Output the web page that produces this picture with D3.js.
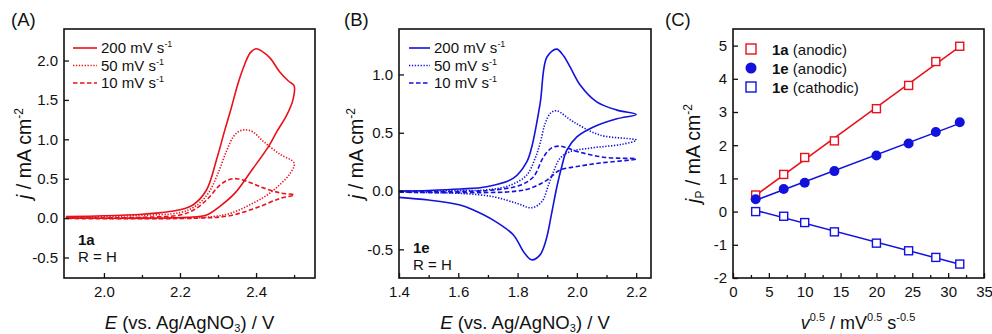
<!DOCTYPE html>
<html>
<head>
<script src="https://d3js.org/d3.v7.min.js"></script>
<style>
  body { margin: 0; background: #fff; }
  svg text { font-family: "Liberation Sans", Arial, sans-serif; fill: #111; }
</style>
</head>
<body>
<svg id="chart" width="992" height="334"></svg>
<script>
// ---- data ----
const RED = "#e8101a", BLUE = "#1212dc";
const rateLabels = ["200", "50", "10"];

// panel A, 1a: [E, j] along the scan (forward then reverse)
const cvA200 = [[1.9,0.02],[2.0,0.03],[2.1,0.05],[2.15,0.07],[2.2,0.105],[2.235,0.17],[2.27,0.36],[2.296,0.74],[2.318,1.12],[2.335,1.4],[2.352,1.7],[2.37,1.95],[2.385,2.1],[2.4,2.15],[2.415,2.12],[2.437,2.03],[2.463,1.85],[2.485,1.74],[2.5,1.68],
  [2.497,1.5],[2.48,1.3],[2.455,1.1],[2.433,0.91],[2.389,0.61],[2.345,0.32],[2.305,0.15],[2.27,0.04],[2.22,0.01],[2.1,0.0],[1.9,0.0]];
const cvA50 = [[1.9,0.01],[2.0,0.02],[2.1,0.035],[2.2,0.07],[2.24,0.15],[2.275,0.32],[2.3,0.57],[2.323,0.86],[2.34,1.03],[2.355,1.1],[2.37,1.12],[2.39,1.1],[2.42,0.97],[2.463,0.81],[2.5,0.7],
  [2.49,0.57],[2.437,0.32],[2.384,0.17],[2.332,0.06],[2.288,0.02],[2.2,0.0],[1.9,0.0]];
const cvA10 = [[1.9,0.0],[2.1,0.01],[2.2,0.04],[2.235,0.1],[2.27,0.23],[2.305,0.42],[2.33,0.49],[2.349,0.5],[2.38,0.46],[2.41,0.4],[2.463,0.32],[2.5,0.295],
  [2.463,0.25],[2.4,0.13],[2.33,0.03],[2.25,0.0],[1.9,-0.005]];

// panel B, 1e
const cvB200 = [[1.4,0.0],[1.5,0.005],[1.606,0.017],[1.696,0.037],[1.786,0.11],[1.831,0.25],[1.848,0.38],[1.876,0.75],[1.899,1.15],[1.932,1.217],[1.955,1.16],[1.977,1.065],[2.011,0.91],[2.067,0.765],[2.135,0.694],[2.2,0.657],
  [2.135,0.62],[2.056,0.55],[2.0,0.465],[1.966,0.35],[1.948,0.2],[1.932,0.03],[1.915,-0.19],[1.896,-0.42],[1.875,-0.55],[1.847,-0.59],[1.82,-0.52],[1.786,-0.377],[1.718,-0.25],[1.651,-0.163],[1.606,-0.12],[1.5,-0.077],[1.4,-0.054]];
const cvB50 = [[1.4,0.0],[1.6,0.003],[1.696,0.01],[1.775,0.05],[1.831,0.137],[1.859,0.28],[1.876,0.41],[1.893,0.58],[1.912,0.67],[1.932,0.688],[1.988,0.594],[2.078,0.48],[2.2,0.437],
  [2.15,0.4],[2.05,0.37],[1.977,0.337],[1.943,0.28],[1.921,0.165],[1.904,0.05],[1.882,-0.09],[1.848,-0.143],[1.797,-0.105],[1.718,-0.049],[1.606,-0.02],[1.4,-0.01]];
const cvB10 = [[1.4,0.0],[1.7,0.005],[1.808,0.05],[1.853,0.12],[1.887,0.29],[1.915,0.37],[1.943,0.385],[2.0,0.34],[2.09,0.29],[2.2,0.275],
  [2.078,0.24],[2.0,0.21],[1.943,0.18],[1.899,0.094],[1.842,0.023],[1.775,-0.006],[1.4,-0.01]];

// panel C, peak current vs sqrt(scan rate)
const sqrtV = [3.16, 7.07, 10, 14.14, 20, 24.49, 28.28, 31.62];
const jp1aAnodic = [0.5, 1.12, 1.63, 2.13, 3.1, 3.8, 4.52, 4.98];
const jp1eAnodic = [0.37, 0.68, 0.87, 1.22, 1.69, 2.05, 2.4, 2.69];
const jp1eCathodic = [0.0, -0.14, -0.33, -0.61, -0.95, -1.18, -1.38, -1.58];

const svg = d3.select("#chart");
const plotTop = 29, plotBottom = 278;
const fmt1 = d => d.toFixed(1);
const fmt0 = d => String(d);

function drawFrame(g, x, y, opt) {
  const [x0, x1] = x.range(), [y0, y1] = y.range();
  // bottom axis, inward ticks
  g.append("g").attr("transform", `translate(0,${y0})`)
    .call(d3.axisBottom(x).tickValues(opt.xMajor).tickSize(-5).tickPadding(8).tickFormat(opt.xFmt))
    .call(a => a.select(".domain").remove())
    .call(a => a.selectAll("text").attr("font-size", 15));
  g.append("g").attr("transform", `translate(0,${y0})`)
    .call(d3.axisBottom(x).tickValues(opt.xMinor).tickSize(-3).tickFormat(""))
    .call(a => a.select(".domain").remove());
  g.append("g").attr("transform", `translate(${x0},0)`)
    .call(d3.axisLeft(y).tickValues(opt.yMajor).tickSize(-5).tickPadding(6).tickFormat(opt.yFmt))
    .call(a => a.select(".domain").remove())
    .call(a => a.selectAll("text").attr("font-size", 15));
  g.selectAll(".tick line").attr("stroke", "#111").attr("stroke-width", 1.3);
  g.append("rect").attr("x", x0).attr("y", y1).attr("width", x1 - x0).attr("height", y0 - y1)
    .attr("fill", "none").attr("stroke", "#111").attr("stroke-width", 1.6);
}

function ylabelJ(g, cx, cy, sub) {
  const t = g.append("text").attr("transform", `translate(${cx},${cy}) rotate(-90)`)
    .attr("text-anchor", "middle").attr("font-size", 19.5);
  t.append("tspan").attr("font-style", "italic").text("j");
  if (sub) t.append("tspan").attr("font-size", 12).attr("dy", 4).text(sub);
  t.append("tspan").attr("dy", sub ? -4 : 0).text(" / mA cm");
  t.append("tspan").attr("font-size", 12).attr("dy", -8).text("-2");
}

function xlabelE(g, cx) {
  const t = g.append("text").attr("x", cx).attr("y", 329).attr("text-anchor", "middle").attr("font-size", 18.5);
  t.append("tspan").attr("font-style", "italic").text("E");
  t.append("tspan").text(" (vs. Ag/AgNO");
  t.append("tspan").attr("font-size", 11).attr("dy", 2.5).text("3");
  t.append("tspan").attr("dy", -2.5).text(") / V");
}

function cvPanel(opt) {
  const g = svg.append("g");
  const x = d3.scaleLinear().domain(opt.xDomain).range(opt.xRange);
  const y = d3.scaleLinear().domain(opt.yDomain).range([plotBottom, plotTop]);
  const line = d3.line().x(d => x(d[0])).y(d => y(d[1])).curve(d3.curveCatmullRom.alpha(0.5));
  const dashes = [null, "1.3,1.6", "4.5,2.5"];
  opt.curves.forEach((c, i) => {
    g.append("path").datum(c).attr("d", line).attr("fill", "none")
      .attr("stroke", opt.color).attr("stroke-width", 1.6)
      .attr("stroke-dasharray", dashes[i]);
  });
  drawFrame(g, x, y, opt);
  // legend
  rateLabels.forEach((r, i) => {
    const ly = 48 + i * 17.5;
    g.append("line").attr("x1", opt.legX[0]).attr("x2", opt.legX[1]).attr("y1", ly).attr("y2", ly)
      .attr("stroke", opt.color).attr("stroke-width", 1.6).attr("stroke-dasharray", dashes[i]);
    const t = g.append("text").attr("x", opt.legX[1] + 4).attr("y", ly + 5).attr("font-size", 15);
    t.append("tspan").text(r + " mV s");
    t.append("tspan").attr("font-size", 9).attr("dy", -6).text("-1");
  });
  g.append("text").attr("x", opt.labX).attr("y", opt.labY).attr("font-size", 15)
    .attr("font-weight", "bold").text(opt.compound);
  g.append("text").attr("x", opt.labX).attr("y", opt.labY + 17).attr("font-size", 15).text("R = H");
  g.append("text").attr("x", opt.panelX).attr("y", 26).attr("font-size", 18.5).text(opt.panel);
  ylabelJ(g, opt.yLabX, (plotTop + plotBottom) / 2);
  xlabelE(g, (opt.xRange[0] + opt.xRange[1]) / 2);
}

cvPanel({
  xDomain: [1.895, 2.555], xRange: [64, 315], yDomain: [-0.76, 2.4], color: RED,
  curves: [cvA200, cvA50, cvA10],
  xMajor: [2.0, 2.2, 2.4], xMinor: [2.1, 2.3, 2.5], yMajor: [-0.5, 0, 0.5, 1.0, 1.5, 2.0],
  xFmt: fmt1, yFmt: fmt1, legX: [73, 97], labX: 78, labY: 245, compound: "1a",
  panel: "(A)", panelX: 11, yLabX: 31
});
cvPanel({
  xDomain: [1.4, 2.25], xRange: [399, 651], yDomain: [-0.746, 1.39], color: BLUE,
  curves: [cvB200, cvB50, cvB10],
  xMajor: [1.4, 1.6, 1.8, 2.0, 2.2], xMinor: [1.5, 1.7, 1.9, 2.1], yMajor: [-0.5, 0, 0.5, 1.0],
  xFmt: fmt1, yFmt: fmt1, legX: [409, 430], labX: 413, labY: 253, compound: "1e",
  panel: "(B)", panelX: 344, yLabX: 363
});

// ---- panel C ----
(function () {
  const g = svg.append("g");
  const x = d3.scaleLinear().domain([0, 35]).range([733, 984]);
  const y = d3.scaleLinear().domain([-2, 5.5]).range([plotBottom, plotTop]);
  const series = [
    { name: "1a", kind: "(anodic)", vals: jp1aAnodic, color: RED, shape: "square" },
    { name: "1e", kind: "(anodic)", vals: jp1eAnodic, color: BLUE, shape: "circle" },
    { name: "1e", kind: "(cathodic)", vals: jp1eCathodic, color: BLUE, shape: "square" }
  ];
  series.forEach(s => {
    // least-squares fit line
    const n = sqrtV.length, mx = d3.mean(sqrtV), my = d3.mean(s.vals);
    const b = d3.sum(sqrtV, (v, i) => (v - mx) * (s.vals[i] - my)) / d3.sum(sqrtV, v => (v - mx) ** 2);
    const a = my - b * mx;
    const ends = [sqrtV[0], sqrtV[n - 1]];
    g.append("path").datum(ends)
      .attr("d", d3.line().x(d => x(d)).y(d => y(a + b * d)))
      .attr("stroke", s.color).attr("stroke-width", 1.5).attr("fill", "none");
  });
  series.forEach(s => {
    const pts = g.selectAll(null).data(sqrtV.map((v, i) => [v, s.vals[i]]));
    if (s.shape === "circle") {
      pts.enter().append("circle").attr("cx", d => x(d[0])).attr("cy", d => y(d[1])).attr("r", 5)
        .attr("fill", s.color);
    } else {
      pts.enter().append("rect").attr("x", d => x(d[0]) - 4).attr("y", d => y(d[1]) - 4)
        .attr("width", 8).attr("height", 8).attr("fill", "#fff").attr("stroke", s.color).attr("stroke-width", 1.4);
    }
  });
  drawFrame(g, x, y, {
    xMajor: [0, 5, 10, 15, 20, 25, 30, 35], xMinor: [2.5, 7.5, 12.5, 17.5, 22.5, 27.5, 32.5],
    yMajor: [-2, -1, 0, 1, 2, 3, 4, 5], xFmt: fmt0, yFmt: fmt0
  });
  series.forEach((s, i) => {
    const ly = 49 + i * 19;
    if (s.shape === "circle") {
      g.append("circle").attr("cx", 751).attr("cy", ly).attr("r", 5.5).attr("fill", s.color);
    } else {
      g.append("rect").attr("x", 746).attr("y", ly - 5).attr("width", 10).attr("height", 10)
        .attr("fill", "#fff").attr("stroke", s.color).attr("stroke-width", 1.4);
    }
    const t = g.append("text").attr("x", 772).attr("y", ly + 5.5).attr("font-size", 15);
    t.append("tspan").attr("font-weight", "bold").text(s.name);
    t.append("tspan").text(" " + s.kind);
  });
  g.append("text").attr("x", 665).attr("y", 26).attr("font-size", 18.5).text("(C)");
  ylabelJ(g, 700, (plotTop + plotBottom) / 2, "P");
  const t = g.append("text").attr("x", 858).attr("y", 329).attr("text-anchor", "middle").attr("font-size", 18);
  t.append("tspan").attr("font-style", "italic").text("v");
  t.append("tspan").attr("font-size", 11).attr("dy", -8).text("0.5");
  t.append("tspan").attr("dy", 8).text(" / mV");
  t.append("tspan").attr("font-size", 11).attr("dy", -8).text("0.5");
  t.append("tspan").attr("dy", 8).text(" s");
  t.append("tspan").attr("font-size", 11).attr("dy", -8).text("-0.5");
})();
</script>
</body>
</html>
